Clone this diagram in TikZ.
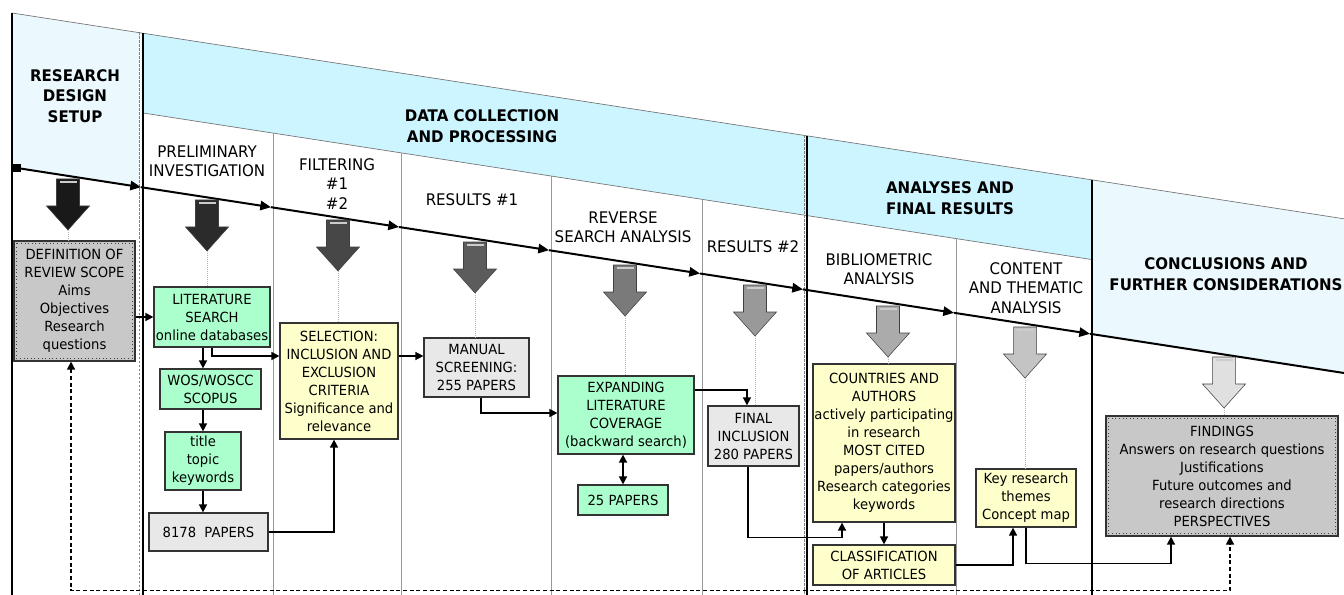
\documentclass[tikz,border=0pt]{standalone}
\usepackage{fontspec}
\setmainfont{DejaVu Sans}[FakeStretch=0.94]
\usetikzlibrary{arrows.meta,calc}
\definecolor{mint}{RGB}{170,255,204}
\definecolor{lyellow}{RGB}{255,255,204}
\definecolor{lgray}{RGB}{232,232,232}
\definecolor{mgray}{RGB}{200,200,200}
\definecolor{paleblue}{RGB}{235,248,254}
\definecolor{cyanband}{RGB}{204,245,255}
\newcommand\boxfont{\fontsize{10.5}{13.5}\selectfont}
\newcommand\labfont{\fontsize{12}{14.5}\selectfont}
\newcommand\hdrfont{\fontsize{12}{15.5}\selectfont\bfseries}
\tikzset{
  box/.style={draw=black!80, line width=0.9pt, align=center, inner sep=1pt, font=\boxfont},
  mintbox/.style={box, fill=mint},
  yelbox/.style={box, fill=lyellow},
  lgbox/.style={box, fill=lgray},
  dgbox/.style={box, fill=mgray},
  innerdot/.style={dotted, black!75, line width=0.7pt},
  lab/.style={align=center, inner sep=0pt, font=\labfont},
  hdr/.style={align=center, inner sep=0pt, font=\hdrfont},
  edge/.style={black!55, line width=0.5pt},
  thickv/.style={black, line width=1.5pt},
  medv/.style={black, line width=1.1pt},
  thinv/.style={black!40, line width=0.6pt},
  dashv/.style={black!50, line width=0.5pt, dash pattern=on 2pt off 1pt},
  mainln/.style={black, line width=1.5pt, -{Triangle[length=8pt,width=7pt]}},
  mainend/.style={black, line width=1.5pt},
  conn/.style={black, line width=1.1pt, -{Triangle[length=6pt,width=6pt]}},
  dconn/.style={black, line width=1.1pt, {Triangle[length=6pt,width=6pt]}-{Triangle[length=6pt,width=6pt]}},
  fback/.style={black, line width=1.1pt, dash pattern=on 3pt off 2pt, {Triangle[length=6pt,width=6pt]}-{Triangle[length=6pt,width=6pt]}},
  guide/.style={black!30, line width=0.5pt, densely dotted},
  sq/.style={fill=black, minimum size=6.5pt, inner sep=0pt},
  bigarrow/.pic={
    \path[pic actions, draw=black!75, line width=0.4pt]
      (-11.5,0) -- (11.5,0) -- (11.5,27) -- (21.5,27) -- (0,51) -- (-21.5,27) -- (-11.5,27) -- cycle;
    \draw[white!80!black, line width=1.2pt] (-8.5,3) -- (8.5,3);
    \coordinate (-tip) at (0,51);
  }
}
\begin{document}
\begin{tikzpicture}[x=0.75pt,y=-0.75pt]
\useasboundingbox (0,0) rectangle (1344,595);
% ---------- bands ----------
\fill[paleblue] (12,13) -- (140,32.8) -- (140,187) -- (12,167.2) -- cycle;
\fill[cyanband] (143,33.2) -- (1092,179.9) -- (1092,259.6) -- (143,113) -- cycle;
\fill[paleblue] (1092,179.9) -- (1344,218.8) -- (1344,373) -- (1092,334.1) -- cycle;
\draw[edge] (12,13) -- (1344,218.8);
\draw[edge] (143,113) -- (1092,259.6);
% ---------- vertical lines ----------
\draw[thickv] (12,13) -- (12,595);
\draw[dashv] (139,32.5) -- (139,595);
\draw[thickv] (143,33.2) -- (143,595);
\draw[thinv] (273,133.1) -- (273,595);
\draw[thinv] (401,152.9) -- (401,595);
\draw[thinv] (551,176.0) -- (551,595);
\draw[thinv] (702,199.4) -- (702,595);
\draw[dashv] (804,135.3) -- (804,595);
\draw[thickv] (807,135.8) -- (807,595);
\draw[thinv] (956,238.6) -- (956,595);
\draw[medv] (1092,179.9) -- (1092,595);
% ---------- headers ----------
\node[hdr] (h1) at (75,96) {RESEARCH\\DESIGN\\SETUP};
\node[hdr] (h2) at (482,126) {DATA COLLECTION\\AND PROCESSING};
\node[hdr] (h3) at (950,198) {ANALYSES AND\\FINAL RESULTS};
\node[hdr] (h4) at (1226,274) {CONCLUSIONS AND\\FURTHER CONSIDERATIONS};
% ---------- column labels ----------
\node[lab] (l1) at (207,161.5) {PRELIMINARY\\INVESTIGATION};
\node[lab] (l2) at (337,184) {FILTERING\\\#1\\\#2};
\node[lab] (l3) at (472,200) {RESULTS \#1};
\node[lab] (l4) at (623,227) {REVERSE\\SEARCH ANALYSIS};
\node[lab] (l5) at (753,247) {RESULTS \#2};
\node[lab] (l6) at (879,269) {BIBLIOMETRIC\\ANALYSIS};
\node[lab] (l7) at (1026,288) {CONTENT\\AND THEMATIC\\ANALYSIS};
% ---------- main time line ----------
\node[sq] (ms) at (17,168) {};
\coordinate (m1) at (141,187.2);
\coordinate (m2) at (271,207.2);
\coordinate (m3) at (399,227.0);
\coordinate (m4) at (549,250.2);
\coordinate (m5) at (700,273.5);
\coordinate (m6) at (803,289.4);
\coordinate (m7) at (954,312.8);
\coordinate (m8) at (1090,333.8);
\coordinate (mend) at (1344,373.0);
\draw[mainln] (ms.center) -- (m1);
\draw[mainln] (m1) -- (m2);
\draw[mainln] (m2) -- (m3);
\draw[mainln] (m3) -- (m4);
\draw[mainln] (m4) -- (m5);
\draw[mainln] (m5) -- (m6);
\draw[mainln] (m6) -- (m7);
\draw[mainln] (m7) -- (m8);
\draw[mainend] (m8) -- (mend);
% ---------- big block arrows ----------
\pic[fill=black!90] (a1) at (68,179) {bigarrow};
\pic[fill=black!83] (a2) at (207,200) {bigarrow};
\pic[fill=black!72] (a3) at (338,220) {bigarrow};
\pic[fill=black!64] (a4) at (475,242) {bigarrow};
\pic[fill=black!52] (a5) at (625,265) {bigarrow};
\pic[fill=black!40] (a6) at (755,285) {bigarrow};
\pic[fill=black!33] (a7) at (888,306) {bigarrow};
\pic[fill=black!23] (a8) at (1025,327) {bigarrow};
\pic[fill=black!12] (a9) at (1224,357) {bigarrow};
% ---------- boxes ----------
\node[dgbox, minimum width=90.75pt, minimum height=90pt] (def) at (74.5,301)
  {DEFINITION OF\\REVIEW SCOPE\\Aims\\Objectives\\Research\\questions};
\draw[innerdot] ([shift={(3,3)}]def.north west) rectangle ([shift={(-3,-3)}]def.south east);
\node[mintbox, minimum width=87pt, minimum height=45pt] (lit) at (212,317)
  {LITERATURE\\SEARCH\\online databases};
\node[mintbox, minimum width=75.75pt, minimum height=30pt] (wos) at (210.5,389)
  {WOS/WOSCC\\SCOPUS};
\node[mintbox, minimum width=57pt, minimum height=43.5pt] (ttk) at (203,461)
  {title\\topic\\keywords};
\node[lgbox, minimum width=89.25pt, minimum height=28.5pt] (p8178) at (208.5,532)
  {8178\ \ PAPERS};
\node[yelbox, minimum width=88.5pt, minimum height=87pt] (sel) at (339,381)
  {SELECTION:\\INCLUSION AND\\EXCLUSION\\CRITERIA\\Significance and\\relevance};
\node[lgbox, minimum width=78.75pt, minimum height=44.25pt] (man) at (476.5,367.5)
  {MANUAL\\SCREENING:\\255 PAPERS};
\node[mintbox, minimum width=102pt, minimum height=58.5pt] (exp) at (626,415)
  {EXPANDING\\LITERATURE\\COVERAGE\\(backward search)};
\node[mintbox, minimum width=67.5pt, minimum height=22.5pt] (p25) at (623,500)
  {25 PAPERS};
\node[lgbox, minimum width=68.25pt, minimum height=45pt] (fin) at (753.5,436)
  {FINAL\\INCLUSION\\280 PAPERS};
\node[yelbox, minimum width=106.5pt, minimum height=118.5pt] (cty) at (884,443)
  {COUNTRIES AND\\AUTHORS\\actively participating\\in research\\MOST CITED\\papers/authors\\Research categories\\keywords};
\node[yelbox, minimum width=106.5pt, minimum height=30pt] (cls) at (884,565)
  {CLASSIFICATION\\OF ARTICLES};
\node[yelbox, minimum width=75pt, minimum height=43.5pt] (key) at (1026,498)
  {Key research\\themes\\Concept map};
\node[dgbox, minimum width=174pt, minimum height=90pt] (fnd) at (1222,476)
  {FINDINGS\\Answers on research questions\\Justifications\\Future outcomes and\\research directions\\PERSPECTIVES};
\draw[innerdot] ([shift={(3,3)}]fnd.north west) rectangle ([shift={(-3,-3)}]fnd.south east);
% ---------- guides from block arrows ----------
\draw[guide] (a1-tip) -- (a1-tip |- def.north);
\draw[guide] (a2-tip) -- (a2-tip |- lit.north);
\draw[guide] (a3-tip) -- (a3-tip |- sel.north);
\draw[guide] (a4-tip) -- (a4-tip |- man.north);
\draw[guide] (a5-tip) -- (a5-tip |- exp.north);
\draw[guide] (a6-tip) -- (a6-tip |- fin.north);
\draw[guide] (a7-tip) -- (a7-tip |- cty.north);
\draw[guide] (a8-tip) -- (a8-tip |- key.north);
\draw[guide] (a9-tip) -- (a9-tip |- fnd.north);
% ---------- connectors ----------
\draw[conn] (def.east |- lit.west) -- (lit.west);
\draw[conn] (ttk.north |- lit.south) -- (ttk.north |- wos.north);
\draw[conn] (ttk.north |- wos.south) -- (ttk.north);
\draw[conn] (ttk.south) -- (ttk.south |- p8178.north);
\draw[conn] (lit.south) |- ([yshift=18.75pt]sel.west);
\draw[conn] (p8178.east) -| ([xshift=-3.75pt]sel.south);
\draw[conn] ([yshift=18.75pt]sel.east) -- ([yshift=18.75pt]sel.east -| man.west);
\draw[conn] ([xshift=3.4pt]man.south) |- ([yshift=1.5pt]exp.west);
\draw[conn] ([yshift=18.75pt]exp.east) -| ([xshift=-4.9pt]fin.north);
\draw[dconn] (p25.north |- exp.south) -- (p25.north);
\draw[conn] ([xshift=-4.1pt]fin.south) -- ++(0,71) -| ([xshift=-31.5pt]cty.south);
\draw[conn] (cty.south) -- (cls.north);
\draw[conn] (cls.east) -| ([xshift=-9.75pt]key.south);
\draw[conn] (key.south) -- ++(0,36) -| ([xshift=-38.25pt]fnd.south);
\draw[fback] ([xshift=-2.6pt]def.south) -- ++(0,229) -| ([xshift=6pt]fnd.south);
\end{tikzpicture}
\end{document}
